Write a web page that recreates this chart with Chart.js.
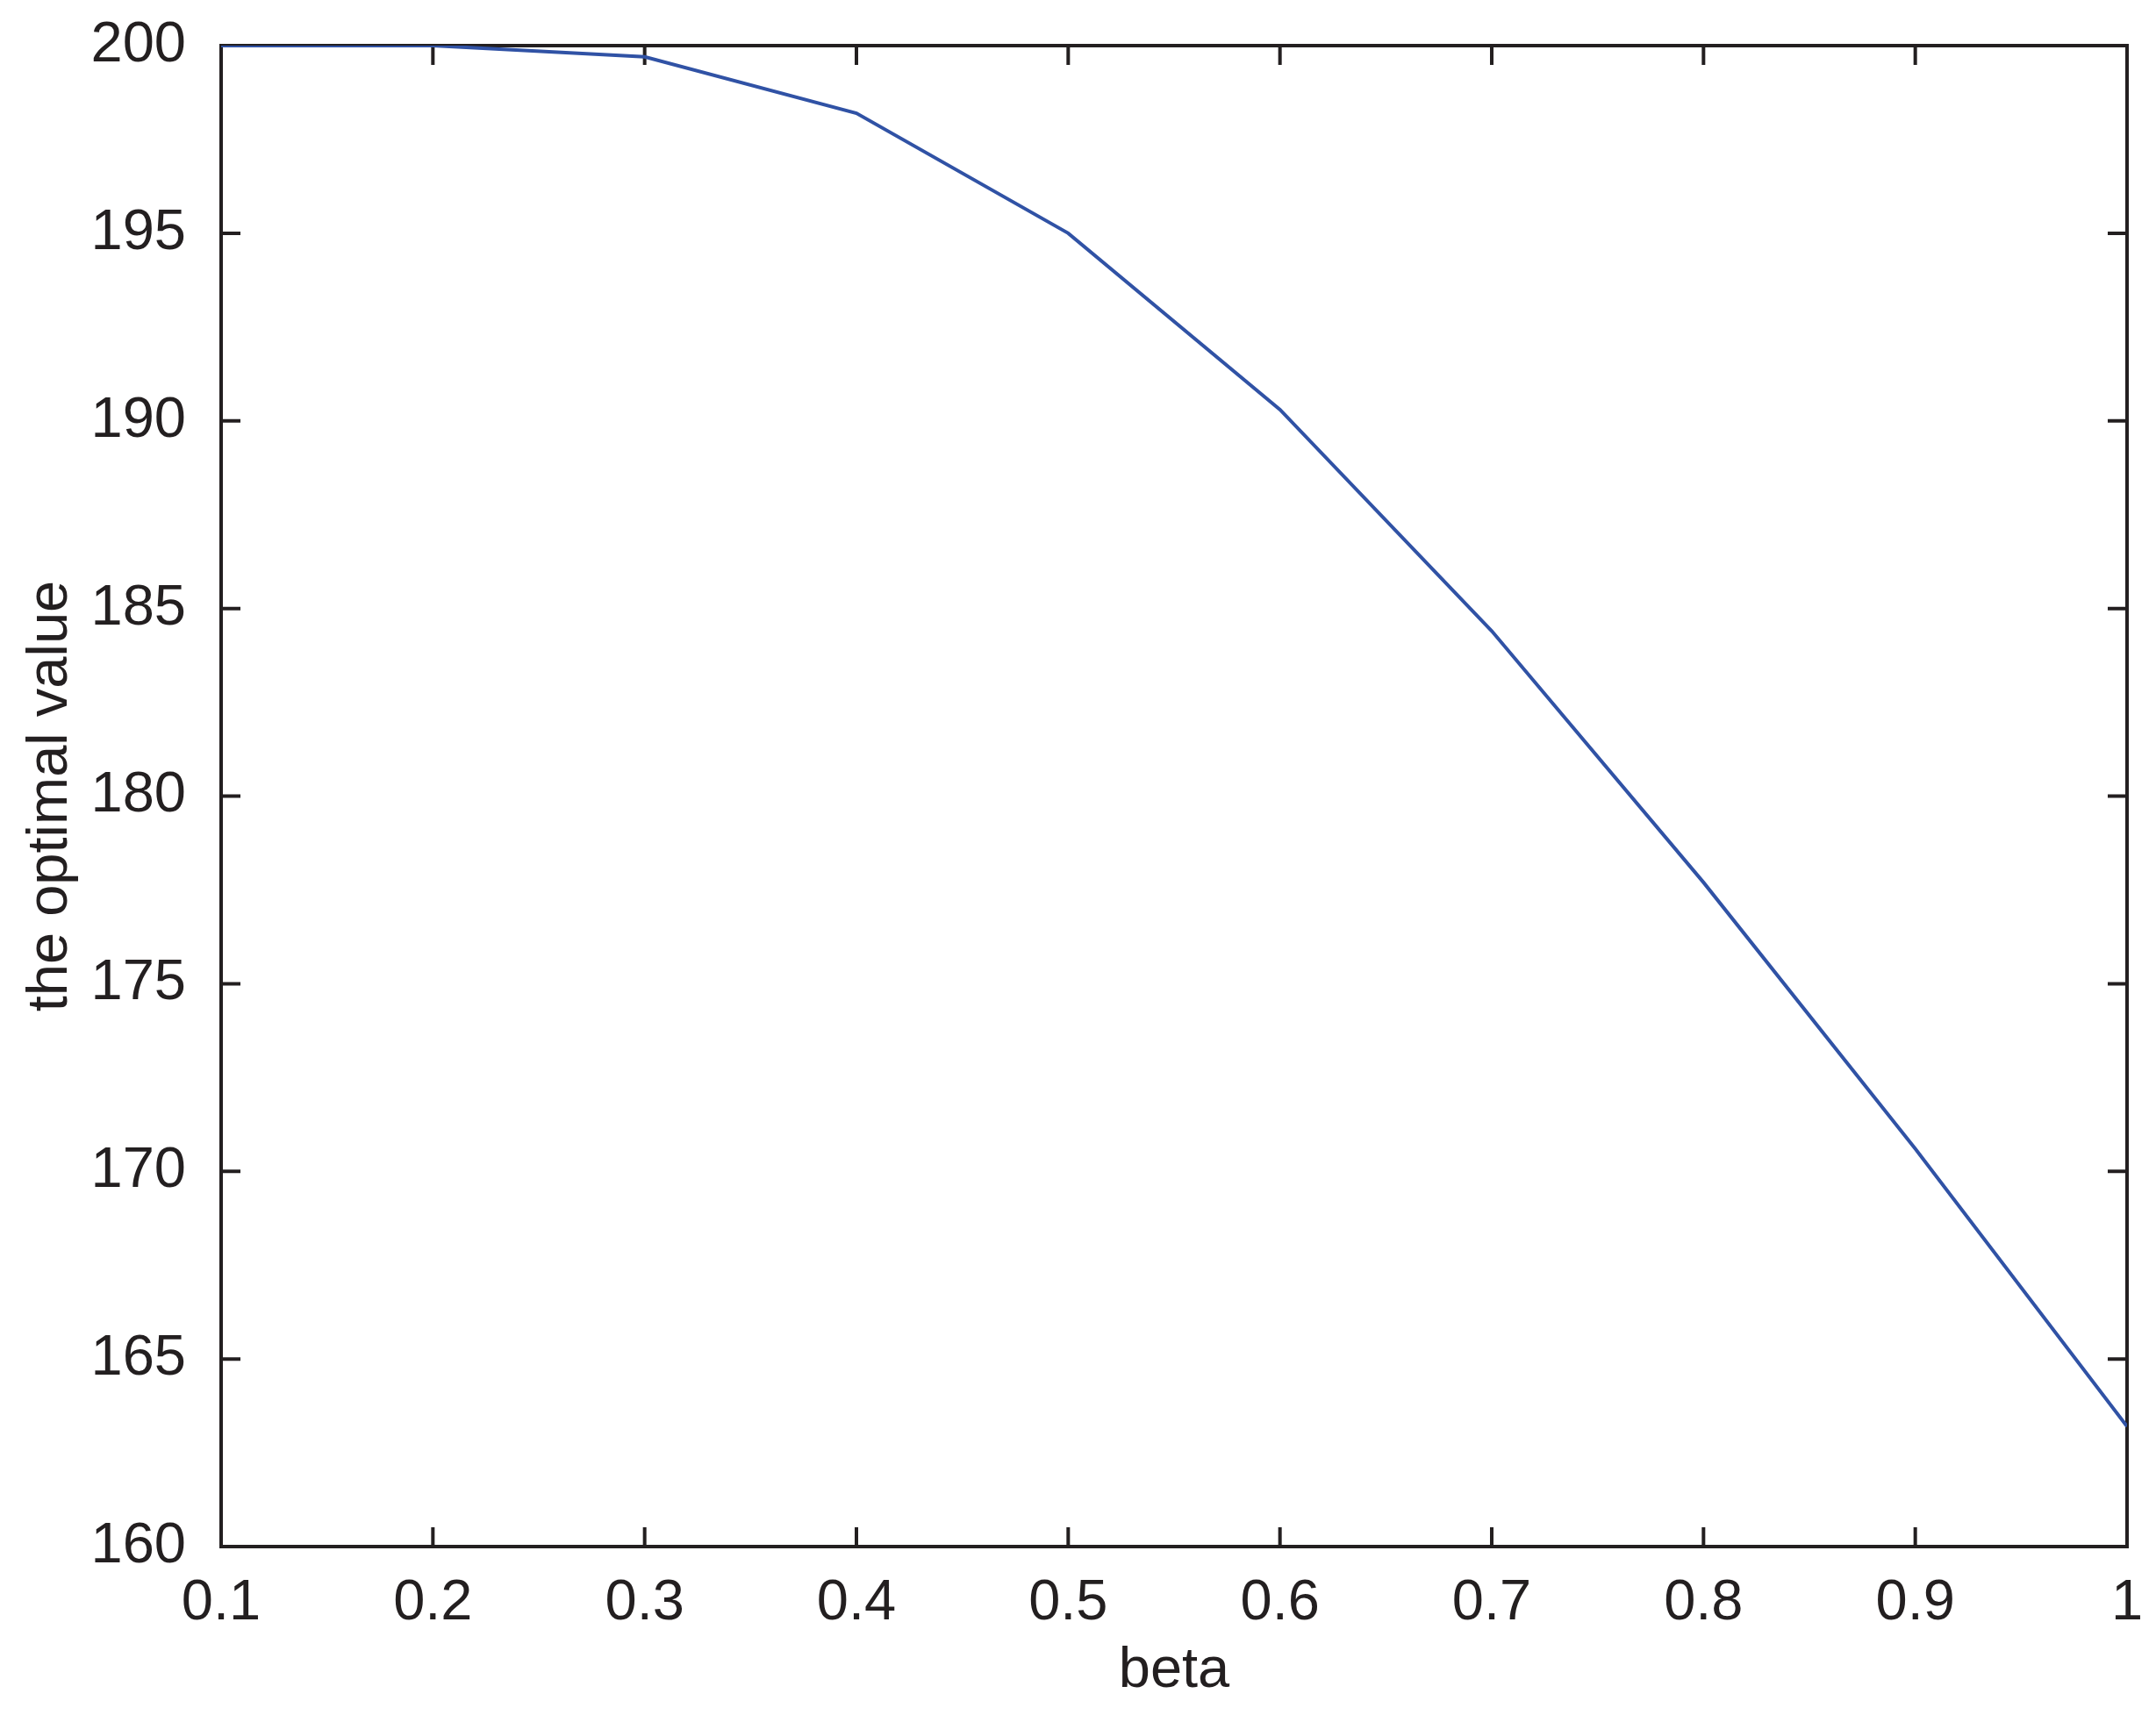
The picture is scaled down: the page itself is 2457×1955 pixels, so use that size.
<!DOCTYPE html>
<html>
<head>
<meta charset="utf-8">
<script src="https://cdn.jsdelivr.net/npm/chart.js@4"></script>
<style>
  html, body { margin: 0; padding: 0; background: #fff; }
  canvas { display: block; }
</style>
</head>
<body>
<canvas id="optimalChart" width="2457" height="1955"></canvas>
<script>
// values
const betaValues = [0.1, 0.2, 0.3, 0.4, 0.5, 0.6, 0.7, 0.8, 0.9, 1.0];
const optimalValues = [200, 200, 199.7, 198.2, 195.0, 190.3, 184.4, 177.7, 170.6, 163.2];
const yTicks = [160, 165, 170, 175, 180, 185, 190, 195, 200];

const axisColor = '#231f20';
const tickLen = 22;

// MATLAB-style box with inward ticks on all four sides
const boxTicks = {
  id: 'boxTicks',
  beforeDatasetsDraw(chart) {
    const { ctx, chartArea: a, scales } = chart;
    ctx.save();
    ctx.strokeStyle = axisColor;
    ctx.lineWidth = 4;
    ctx.strokeRect(a.left, a.top, a.right - a.left, a.bottom - a.top);
    ctx.beginPath();
    scales.x.ticks.forEach(t => {
      const px = scales.x.getPixelForValue(t.value);
      ctx.moveTo(px, a.bottom); ctx.lineTo(px, a.bottom - tickLen);
      ctx.moveTo(px, a.top); ctx.lineTo(px, a.top + tickLen);
    });
    scales.y.ticks.forEach(t => {
      const py = scales.y.getPixelForValue(t.value);
      ctx.moveTo(a.left, py); ctx.lineTo(a.left + tickLen, py);
      ctx.moveTo(a.right, py); ctx.lineTo(a.right - tickLen, py);
    });
    ctx.stroke();
    ctx.restore();
  }
};

const font = { family: '"Liberation Sans", Arial, Helvetica, sans-serif', size: 65 };

// invisible outward tick marks only used to space the labels from the box
const spacer = len => ({
  display: true,
  drawOnChartArea: false,
  drawTicks: true,
  tickLength: len,
  color: 'rgba(0,0,0,0)'
});

new Chart(document.getElementById('optimalChart'), {
  type: 'scatter',
  data: {
    datasets: [{
      data: betaValues.map((b, i) => ({ x: b, y: optimalValues[i] })),
      showLine: true,
      borderColor: '#3052a5',
      borderWidth: 4,
      pointRadius: 0,
      tension: 0
    }]
  },
  options: {
    responsive: false,
    animation: false,
    events: [],
    layout: { padding: { top: 52, right: 33, left: 0, bottom: 0 } },
    plugins: { legend: { display: false }, tooltip: { enabled: false } },
    scales: {
      x: {
        type: 'linear',
        min: 0.1,
        max: 1,
        afterBuildTicks: s => { s.ticks = betaValues.map(v => ({ value: v })); },
        afterFit: s => { s.height = 192; },
        grid: spacer(26),
        border: { display: false },
        ticks: {
          color: axisColor,
          font: font,
          padding: 0,
          maxRotation: 0,
          autoSkip: false,
          callback: v => String(Number(v.toFixed(1)))
        },
        title: { display: true, text: 'beta', color: axisColor, font: font, padding: { top: 0, bottom: 11 } }
      },
      y: {
        min: 160,
        max: 200,
        afterBuildTicks: s => { s.ticks = yTicks.map(v => ({ value: v })); },
        afterFit: s => { s.width = 252; },
        grid: spacer(40),
        border: { display: false },
        ticks: { color: axisColor, font: font, padding: 0, autoSkip: false },
        title: { display: true, text: 'the optimal value', color: axisColor, font: font, padding: { top: 19, bottom: 0 } }
      }
    }
  },
  plugins: [boxTicks]
});
</script>
</body>
</html>
